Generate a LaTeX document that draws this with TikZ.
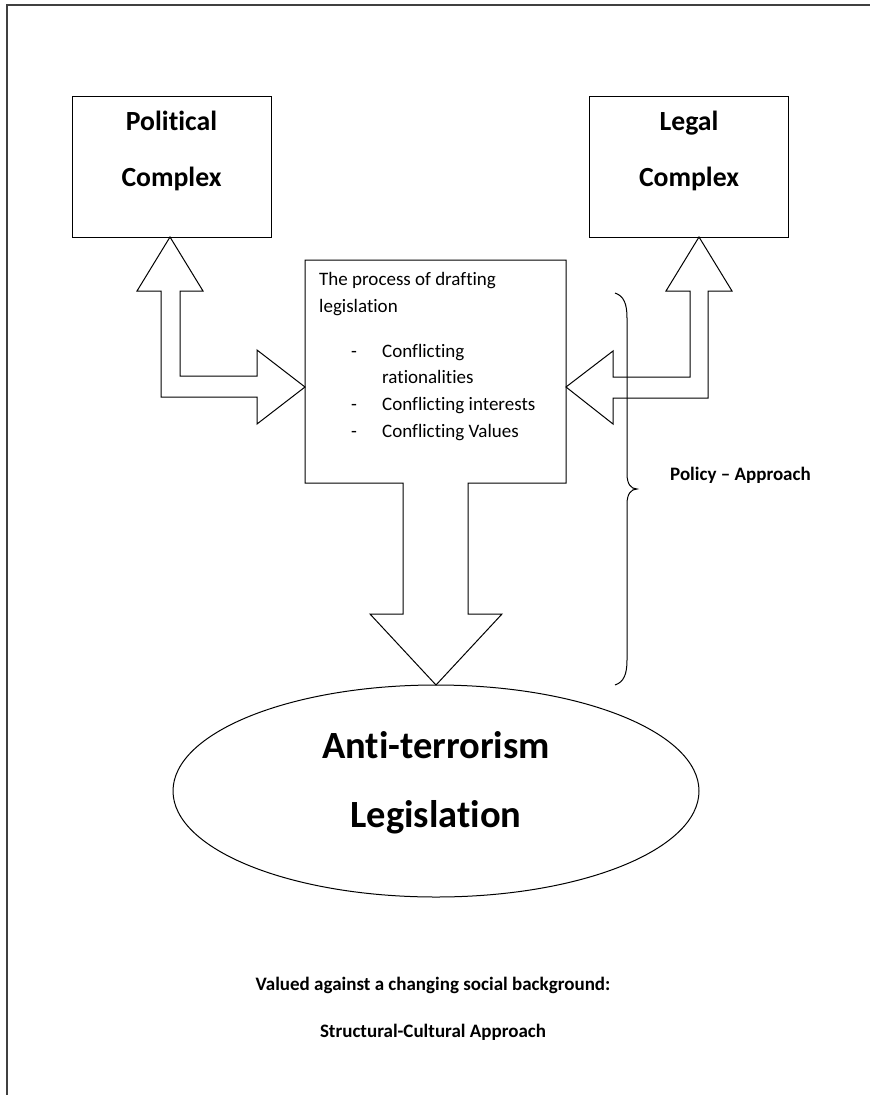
\documentclass[tikz,border=0pt]{standalone}
\usepackage{fontspec}
\setmainfont{Carlito}[Ligatures={NoCommon,TeX}]
\usetikzlibrary{shapes.geometric}
\begin{document}
\begin{tikzpicture}[x=1pt,y=-1pt,
  shape line/.style={draw=black, line width=1pt, line join=miter},
  boxnode/.style={draw=black, line width=1pt, minimum width=199pt, minimum height=141pt, inner sep=0pt, outer sep=0pt},
  frameline/.style={draw=black!75, line width=2pt},
  bigtitle/.style={anchor=base, inner sep=0pt, font=\fontsize{27.7}{33}\selectfont\bfseries},
  ovaltext/.style={anchor=base, inner sep=0pt, font=\fontsize{38.5}{46}\selectfont\bfseries},
  bodytext/.style={anchor=base west, inner sep=0pt, font=\fontsize{19}{23}\selectfont},
  boldsmall/.style={anchor=base, inner sep=0pt, font=\fontsize{19}{23}\selectfont\bfseries}]
\useasboundingbox (0,0) rectangle (870,1095);
% page frame (top and left only)
\draw[frameline] (870,4.5) -- (6.5,4.5) -- (6.5,1095);
% boxes
\node[boxnode] (pol) at (171.5,166.5) {};
\node[boxnode] (leg) at (689,166.5) {};
\node[bigtitle] (polA) at (171.5,130) {Political};
\node[bigtitle] (polB) at (171.5,186) {Complex};
\node[bigtitle] (legA) at (689,130) {Legal};
\node[bigtitle] (legB) at (689,186) {Complex};
% central box with downward block arrow
\draw[shape line] (305,260) -- (566,260) -- (566,483) -- (468,483) -- (468,614) -- (502,614)
  -- (436,685) -- (370,614) -- (403,614) -- (403,483) -- (305,483) -- cycle;
\node[bodytext] (t1) at (319,285) {The process of drafting};
\node[bodytext] (t2) at (319,312) {legislation};
\node[bodytext] (d1) at (351,357) {-};
\node[bodytext] (b1) at (382,357) {Conflicting};
\node[bodytext] (b1b) at (382,383) {rationalities};
\node[bodytext] (d2) at (351,410) {-};
\node[bodytext] (b2) at (382,410) {Conflicting interests};
\node[bodytext] (d3) at (351,437) {-};
\node[bodytext] (b3) at (382,437) {Conflicting Values};
% left double block arrow
\draw[shape line] (170,237) -- (203,291) -- (180,291) -- (180,376) -- (257,376) -- (257,350)
  -- (305,387) -- (257,424) -- (257,397) -- (161,397) -- (161,291) -- (137,291) -- cycle;
% right double block arrow
\draw[shape line] (699,237) -- (732,291) -- (708,291) -- (708,398) -- (613,398) -- (613,424)
  -- (566,387) -- (613,351) -- (613,377) -- (690,377) -- (690,291) -- (666,291) -- cycle;
% brace
\draw[line width=1pt] (615,293) .. controls (624,296) and (627,304) .. (627,318)
  -- (627,474) .. controls (627,484) and (631,489) .. (637,489)
  .. controls (631,489) and (627,494) .. (627,504)
  -- (627,660) .. controls (627,674) and (624,682) .. (615,685);
\node[boldsmall, anchor=base west] (pol2) at (670,480) {Policy – Approach};
% ellipse
\node[draw=black, line width=1pt, ellipse, minimum width=526pt, minimum height=212pt, inner sep=0pt, outer sep=0pt] (oval) at (436,791) {};
\node[ovaltext] (o1) at (436,758) {Anti-terrorism};
\node[ovaltext] (o2) at (436,827) {Legislation};
% bottom text
\node[boldsmall] (bt1) at (433,990) {Valued against a changing social background:};
\node[boldsmall] (bt2) at (433,1037) {Structural-Cultural Approach};
\end{tikzpicture}
\end{document}
